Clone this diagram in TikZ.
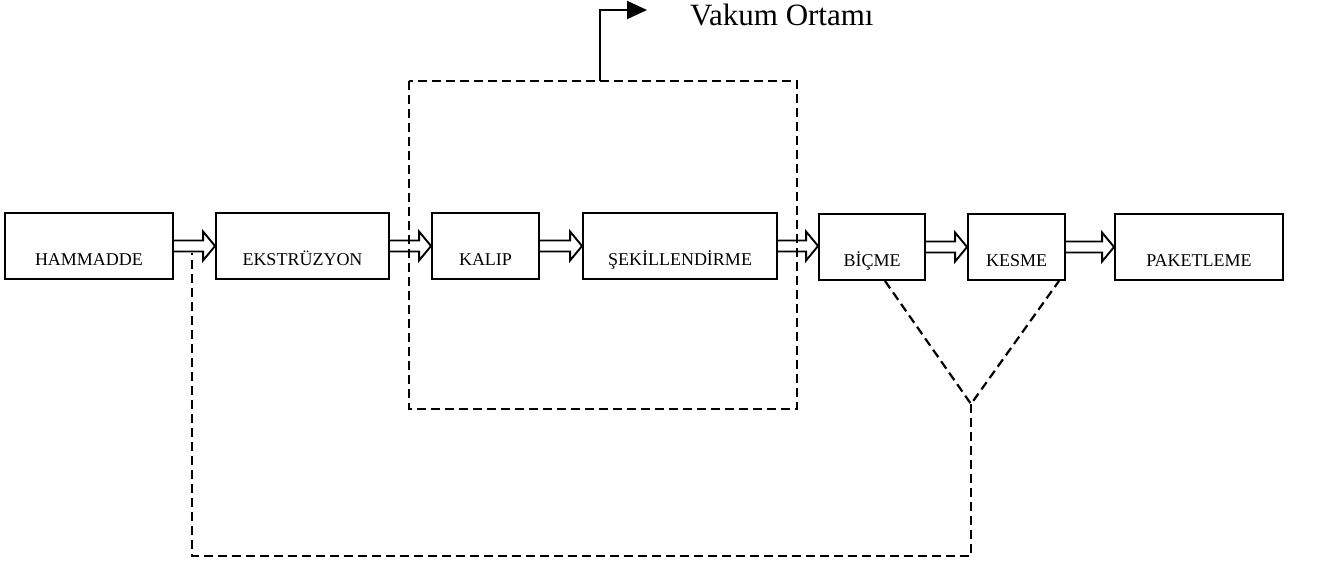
\documentclass[tikz,border=0pt]{standalone}
\usepackage{fontspec}
\setmainfont{Liberation Serif}
\usetikzlibrary{calc,arrows.meta}
\tikzset{
  box/.style={draw,line width=1.9pt,inner sep=0pt,text height=52pt,text depth=14pt,minimum height=66pt,font=\fontsize{18}{20}\selectfont},
  flow/.style={line width=1.9pt,line join=miter,to path={
    ($(\tikztostart)+(0,-5.5)$) -- ($(\tikztostart -| \tikztotarget)+(-12,-5.5)$)
    -- ($(\tikztostart -| \tikztotarget)+(-12,-14.5)$) -- (\tikztostart -| \tikztotarget)
    -- ($(\tikztostart -| \tikztotarget)+(-12,14.5)$) -- ($(\tikztostart -| \tikztotarget)+(-12,5.5)$)
    -- ($(\tikztostart)+(0,5.5)$)}},
  zone/.style={line width=2.2pt,dash pattern=on 9pt off 5pt}
}
\begin{document}
\begin{tikzpicture}[x=1pt,y=-1pt]
\useasboundingbox (0,0) rectangle (1317,568);
% process steps
\node[box,minimum width=168pt] (ham) at (89,246) {HAMMADDE};
\node[box,minimum width=173pt] (eks) at (302.5,246) {EKSTRÜZYON};
\node[box,minimum width=107pt] (kal) at (485.5,246) {KALIP};
\node[box,minimum width=194pt] (sek) at (680,246) {ŞEKİLLENDİRME};
\node[box,minimum width=106pt] (bic) at (872,247) {BİÇME};
\node[box,minimum width=97pt] (kes) at (1016.5,247) {KESME};
\node[box,minimum width=168pt] (pak) at (1199,247) {PAKETLEME};
% hollow flow arrows
\draw[flow] (ham.east) to (eks.west);
\draw[flow] (eks.east) to (kal.west);
\draw[flow] (kal.east) to (sek.west);
\draw[flow] (sek.east) to (bic.west);
\draw[flow] (bic.east) to (kes.west);
\draw[flow] (kes.east) to (pak.west);
% vacuum zone
\draw[zone] (409,81) rectangle (797,409);
\coordinate (vtop) at (600,81);
\coordinate (vend) at (647,10);
\node[anchor=base west,inner sep=0pt,font=\fontsize{31}{34}\selectfont] (vak) at (690,25) {Vakum Ortamı};
\draw[line width=2pt,-{Triangle[length=20pt,width=18pt]}] (vtop) |- (vend);
% scrap return line
\coordinate (ret) at (192,252.5);
\coordinate (yj) at (971,404);
\draw[zone] ($(bic.south)+(13,0)$) -- (yj) -- ($(kes.south)+(42.5,0)$);
\draw[zone] (yj) -- (971,556) -- (192,556) -- (ret);
\end{tikzpicture}
\end{document}
